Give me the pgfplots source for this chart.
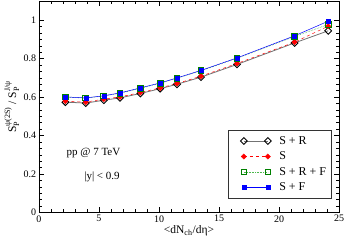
\documentclass[border=0pt]{standalone}
\usepackage{pgfplots}
\pgfplotsset{compat=1.18}
\usepackage{fontspec}
\setmainfont{Liberation Serif}
\usepackage{amsmath}
\begin{document}
\fontsize{11}{13}\selectfont
\begin{tikzpicture}
\begin{axis}[
  at={(0pt,0pt)}, anchor=south west,
  scale only axis, width=300pt, height=211.5pt,
  xmin=0, xmax=25, ymin=0, ymax=1.1,
  xtick={0,5,...,25}, minor x tick num=4,
  ytick={0,0.2,0.4,0.6,0.8,1}, minor y tick num=5,
  tick align=inside, major tick length=5pt, minor tick length=3pt,
  xtick pos=both, ytick pos=both,
  every tick/.style={black, line width=0.6pt},
  axis line style={line width=0.8pt},
  /pgf/number format/assume math mode=true,
  /pgf/number format/fixed,
  tick label style={font=\fontsize{10}{12}\selectfont},
  xticklabel style={yshift=1pt},
  yticklabel style={xshift=1pt},
  xlabel={<dN\textsubscript{ch}/dη>},
  ylabel={$\text{S}_{\text{P}}^{\text{ψ(2S)}}\text{ / }\text{S}_{\text{P}}^{\text{J/ψ}}$},
  label style={font=\fontsize{11.5}{13}\selectfont},
  xlabel style={yshift=4pt},
  ylabel style={yshift=-3pt},
  legend style={at={(0.977,0.064)}, anchor=south east, draw=black!80, line width=0.9pt,
    font=\fontsize{12}{14}\selectfont, inner xsep=3.5pt, inner ysep=4pt, row sep=2pt},
  legend cell align=left,
  legend image code/.code={\path (-12pt,0pt) (33pt,0pt);\draw[#1] plot coordinates {(0pt,0pt) (24pt,0pt)};},
]
\addplot[black!55, line width=0.8pt, mark=square, mark size=2.4pt,
  mark options={rotate=45, draw=black, solid, fill=white, line width=0.9pt}]
coordinates {(2.2,0.574) (3.9,0.569) (5.4,0.584) (6.75,0.596) (8.45,0.619) (10.1,0.644) (11.5,0.667) (13.5,0.704) (16.5,0.770) (21.3,0.882) (24.1,0.945)};
\addlegendentry{S + R}
\addplot[red, dashed, line width=0.5pt, mark=square*, mark size=1.8pt,
  mark options={rotate=45, solid, fill=red}]
coordinates {(2.2,0.579) (3.9,0.574) (5.4,0.590) (6.75,0.601) (8.45,0.624) (10.1,0.648) (11.5,0.671) (13.5,0.709) (16.5,0.775) (21.3,0.886) (24.1,0.969)};
\addlegendentry{S}
\addplot[green!60!black!70, densely dotted, line width=0.6pt, mark=square, mark size=2.8pt,
  mark options={solid, draw=green!50!black, fill=white, line width=1pt}]
coordinates {(2.2,0.600) (3.9,0.595) (5.4,0.606) (6.75,0.620) (8.45,0.646) (10.1,0.672) (11.5,0.698) (13.5,0.737) (16.5,0.802) (21.3,0.915) (24.1,0.978)};
\addlegendentry{S + R + F}
\addplot[blue, line width=0.5pt, mark=square*, mark size=2pt,
  mark options={solid, fill=blue}]
coordinates {(2.2,0.601) (3.9,0.596) (5.4,0.607) (6.75,0.622) (8.45,0.648) (10.1,0.674) (11.5,0.700) (13.5,0.739) (16.5,0.804) (21.3,0.919) (24.1,0.995)};
\addlegendentry{S + F}
\node[anchor=center, font=\fontsize{11}{13}\selectfont] at (axis cs:4.54,0.309) {pp @ 7 TeV};
\node[anchor=center, font=\fontsize{11}{13}\selectfont] at (axis cs:5.25,0.186) {|y| < 0.9};
\end{axis}
\pgfresetboundingbox
\path[use as bounding box] (-39pt,-27.5pt) rectangle (306pt,212.5pt);
\end{tikzpicture}
\end{document}
